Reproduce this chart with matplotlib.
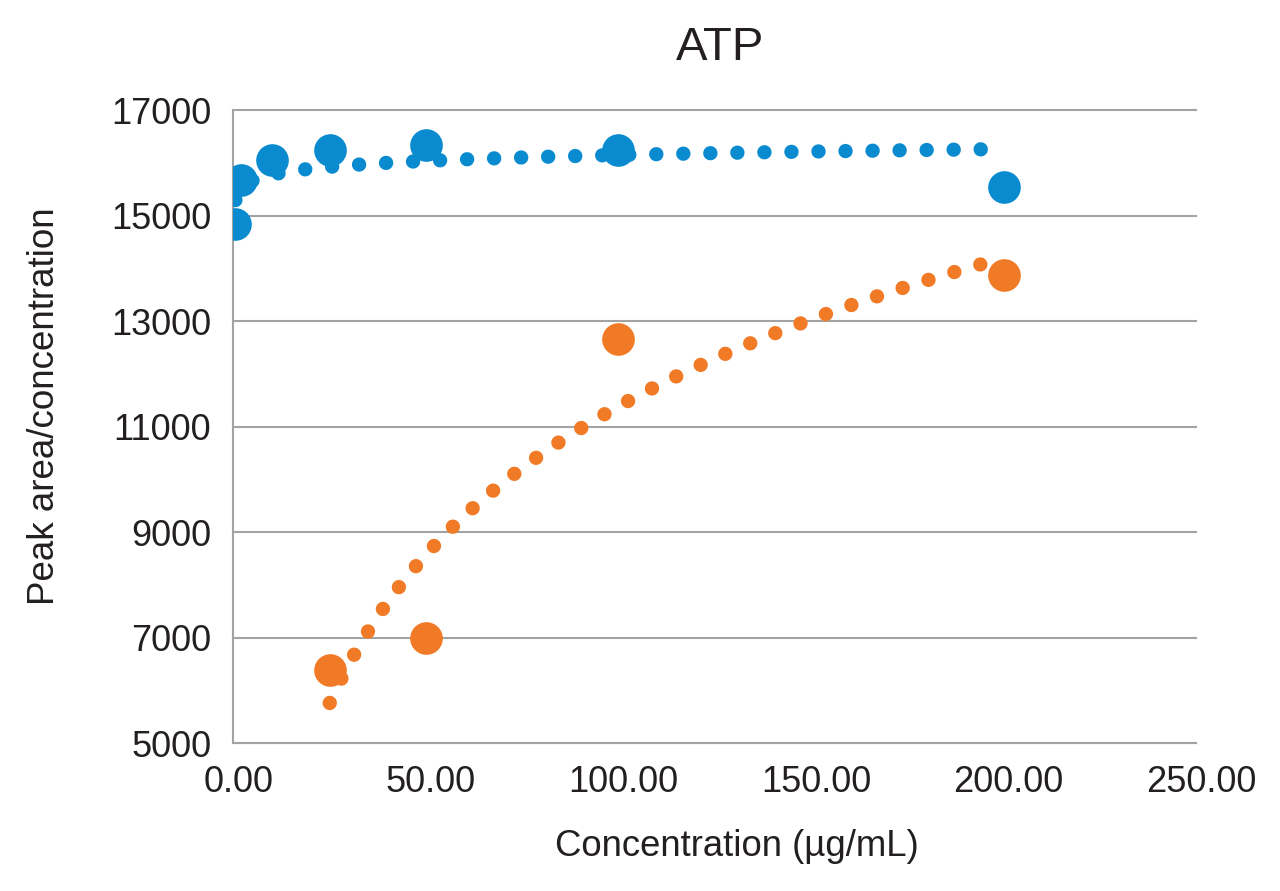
import numpy as np
import matplotlib.pyplot as plt
from matplotlib.transforms import ScaledTranslation

plt.rcParams['font.family'] = ['Liberation Sans', 'DejaVu Sans']

conc_blue = [0.5, 2, 10, 25, 50, 100, 200]
ratio_blue = [14830, 15680, 16060, 16250, 16330, 16250, 15550]

conc_orange = [25, 50, 100, 200]
ratio_orange = [6380, 7000, 12660, 13870]

x_ticks = [0, 50, 100, 150, 200, 250]
y_ticks = [5000, 7000, 9000, 11000, 13000, 15000, 17000]

blue = '#0a8bd0'
orange = '#f07a26'
grey = '#a3a3a3'
textcol = '#231f20'

fig = plt.figure(figsize=(12.8, 8.91), dpi=100)
ax = fig.add_axes([0.1824, 0.1661, 0.7520, 0.7104])


def log_trend(xs, ys):
    # logarithmische Trendlinie wie in Excel: y = a*ln(x) + b
    xs = np.asarray(xs, float)
    a, b = np.polyfit(np.log(xs), np.asarray(ys, float), 1)
    xt = np.linspace(xs.min(), xs.max(), 400)
    return xt, a * np.log(xt) + b


for xs, ys, col in [(conc_blue, ratio_blue, blue), (conc_orange, ratio_orange, orange)]:
    xt, yt = log_trend(xs, ys)
    ax.plot(xt, yt, color=col, lw=10.3, linestyle=(0, (0.01, 1.88)),
            dash_capstyle='round', zorder=3)
    ax.plot(xs, ys, 'o', color=col, markersize=23.5, markeredgewidth=0, zorder=4)

ax.set_xlim(0, 250)
ax.set_ylim(5000, 17000)
ax.set_xticks(x_ticks)
ax.set_yticks(y_ticks)
ax.xaxis.set_major_formatter('{x:.2f}')
ax.tick_params(length=0, labelsize=26, colors=textcol)
ax.tick_params(axis='x', pad=16)
ax.tick_params(axis='y', pad=16)

ax.grid(axis='y', color=grey, lw=1.5)
ax.set_axisbelow(True)
for gl in ax.get_ygridlines():
    gl.set_clip_on(False)

for s in ['top', 'right']:
    ax.spines[s].set_visible(False)
for s in ['left', 'bottom']:
    ax.spines[s].set_color(grey)
    ax.spines[s].set_linewidth(1.5)

# x-Beschriftungen leicht nach rechts versetzt wie im Original
offset = ScaledTranslation(5 / 100, 0, fig.dpi_scale_trans)
for lab in ax.get_xticklabels():
    lab.set_transform(lab.get_transform() + offset)

ax.set_xlabel('Concentration (µg/mL)', fontsize=26.3, color=textcol)
ax.set_ylabel('Peak area/concentration', fontsize=26.5, color=textcol)
ax.xaxis.label.set_va('center')
ax.yaxis.label.set_va('center')
ax.xaxis.set_label_coords(0.523, -0.163)
ax.yaxis.set_label_coords(-0.196, 0.532)

fig.text(720 / 1280, 1 - 48 / 891, 'ATP', ha='center', va='center',
         fontsize=34, color=textcol)

fig.savefig('out.png', dpi=100)
